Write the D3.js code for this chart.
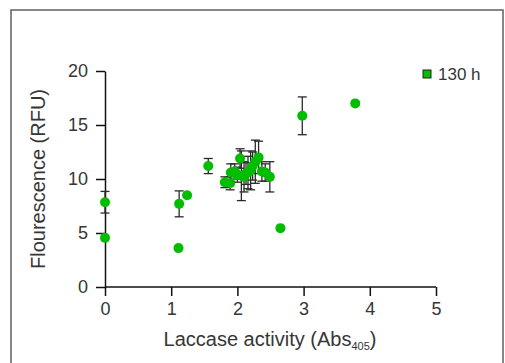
<!DOCTYPE html>
<html>
<head>
<meta charset="utf-8">
<script src="https://cdn.jsdelivr.net/npm/d3@7"></script>
<style>
  body { margin: 0; background: #fff; }
  svg { display: block; font-family: "Liberation Sans", Arial, sans-serif; }
</style>
</head>
<body>
<svg id="chart" width="505" height="363"></svg>
<script>
// Data: laccase activity vs fluorescence, 130 h
const laccase = [0, 0, 1.11, 1.12, 1.24, 1.56, 1.81, 1.89, 1.90, 1.96, 2.00, 2.04, 2.06,
  2.10, 2.13, 2.16, 2.20, 2.23, 2.27, 2.32, 2.37, 2.42, 2.49, 2.65, 2.98, 3.78];
const fluor = [7.85, 4.55, 3.6, 7.7, 8.5, 11.2, 9.7, 9.6, 10.6, 10.7, 10.4, 11.9, 10.3,
  10.2, 10.5, 10.6, 10.8, 11.2, 11.6, 12.0, 10.7, 10.6, 10.2, 5.45, 15.85, 17.0];
const fluorErr = [1.0, 0, 0, 1.2, 0, 0.7, 0.5, 0.6, 0.8, 0.7, 0.7, 0.9, 2.3,
  1.4, 1.0, 1.5, 1.8, 1.3, 2.0, 1.5, 0.9, 0.8, 1.4, 0, 1.75, 0];
const xTicks = [0, 1, 2, 3, 4, 5];
const yTicks = [0, 5, 10, 15, 20];
const seriesName = '130 h';

const green = '#00bd00';
const textCol = '#363636';

const svg = d3.select('#chart');

// outer frame
svg.append('rect')
  .attr('x', 11).attr('y', 10)
  .attr('width', 492).attr('height', 370)
  .attr('fill', 'none')
  .attr('stroke', '#606060')
  .attr('stroke-width', 1.5);

const x = d3.scaleLinear().domain([0, 5]).range([105, 436]);
const y = d3.scaleLinear().domain([0, 20]).range([287, 71]);

const xAxis = svg.append('g')
  .attr('transform', `translate(0,${y(0)})`)
  .call(d3.axisBottom(x).tickValues(xTicks).tickFormat(d3.format('d'))
    .tickSize(9).tickPadding(6).tickSizeOuter(0));
const yAxis = svg.append('g')
  .attr('transform', `translate(${x(0)},0)`)
  .call(d3.axisLeft(y).tickValues(yTicks).tickFormat(d3.format('d'))
    .tickSize(9).tickPadding(8).tickSizeOuter(0));

[xAxis, yAxis].forEach(ax => {
  ax.select('.domain').attr('stroke', '#111').attr('stroke-width', 1.5);
  ax.selectAll('.tick line').attr('stroke', '#111').attr('stroke-width', 1.5);
  ax.selectAll('.tick text')
    .attr('fill', textCol)
    .style('font-size', '18px')
    .style('font-family', '"Liberation Sans", Arial, sans-serif');
});
// x axis line starts at the y axis
xAxis.select('.domain').attr('d', `M${x(0)},0H${x(5)}`);

const pts = laccase.map((v, i) => ({ x: v, y: fluor[i], e: fluorErr[i] }));

// error bars
const eb = svg.append('g')
  .attr('stroke', '#2a2a2a')
  .attr('stroke-width', 1.3);
pts.filter(d => d.e > 0).forEach(d => {
  const cx = x(d.x);
  eb.append('line')
    .attr('x1', cx).attr('x2', cx)
    .attr('y1', y(d.y - d.e)).attr('y2', y(d.y + d.e));
  [d.y - d.e, d.y + d.e].forEach(v => {
    eb.append('line')
      .attr('x1', cx - 4.5).attr('x2', cx + 4.5)
      .attr('y1', y(v)).attr('y2', y(v));
  });
});

// points
svg.append('g')
  .selectAll('circle')
  .data(pts)
  .join('circle')
  .attr('cx', d => x(d.x))
  .attr('cy', d => y(d.y))
  .attr('r', 5)
  .attr('fill', green);

// legend
svg.append('rect')
  .attr('x', 423).attr('y', 70)
  .attr('width', 8).attr('height', 8)
  .attr('fill', green)
  .attr('stroke', '#222')
  .attr('stroke-width', 1);
svg.append('text')
  .attr('x', 438).attr('y', 80)
  .attr('fill', textCol)
  .style('font-size', '17px')
  .text(seriesName);

// axis titles
const xt = svg.append('text')
  .attr('x', 270).attr('y', 346)
  .attr('text-anchor', 'middle')
  .attr('fill', textCol)
  .style('font-size', '20px');
xt.append('tspan').text('Laccase activity (Abs');
xt.append('tspan').attr('dy', 4).style('font-size', '11px').text('405');
xt.append('tspan').attr('dy', -4).text(')');

svg.append('text')
  .attr('transform', 'translate(45,179) rotate(-90)')
  .attr('text-anchor', 'middle')
  .attr('fill', textCol)
  .style('font-size', '20px')
  .text('Flourescence (RFU)');
</script>
</body>
</html>
